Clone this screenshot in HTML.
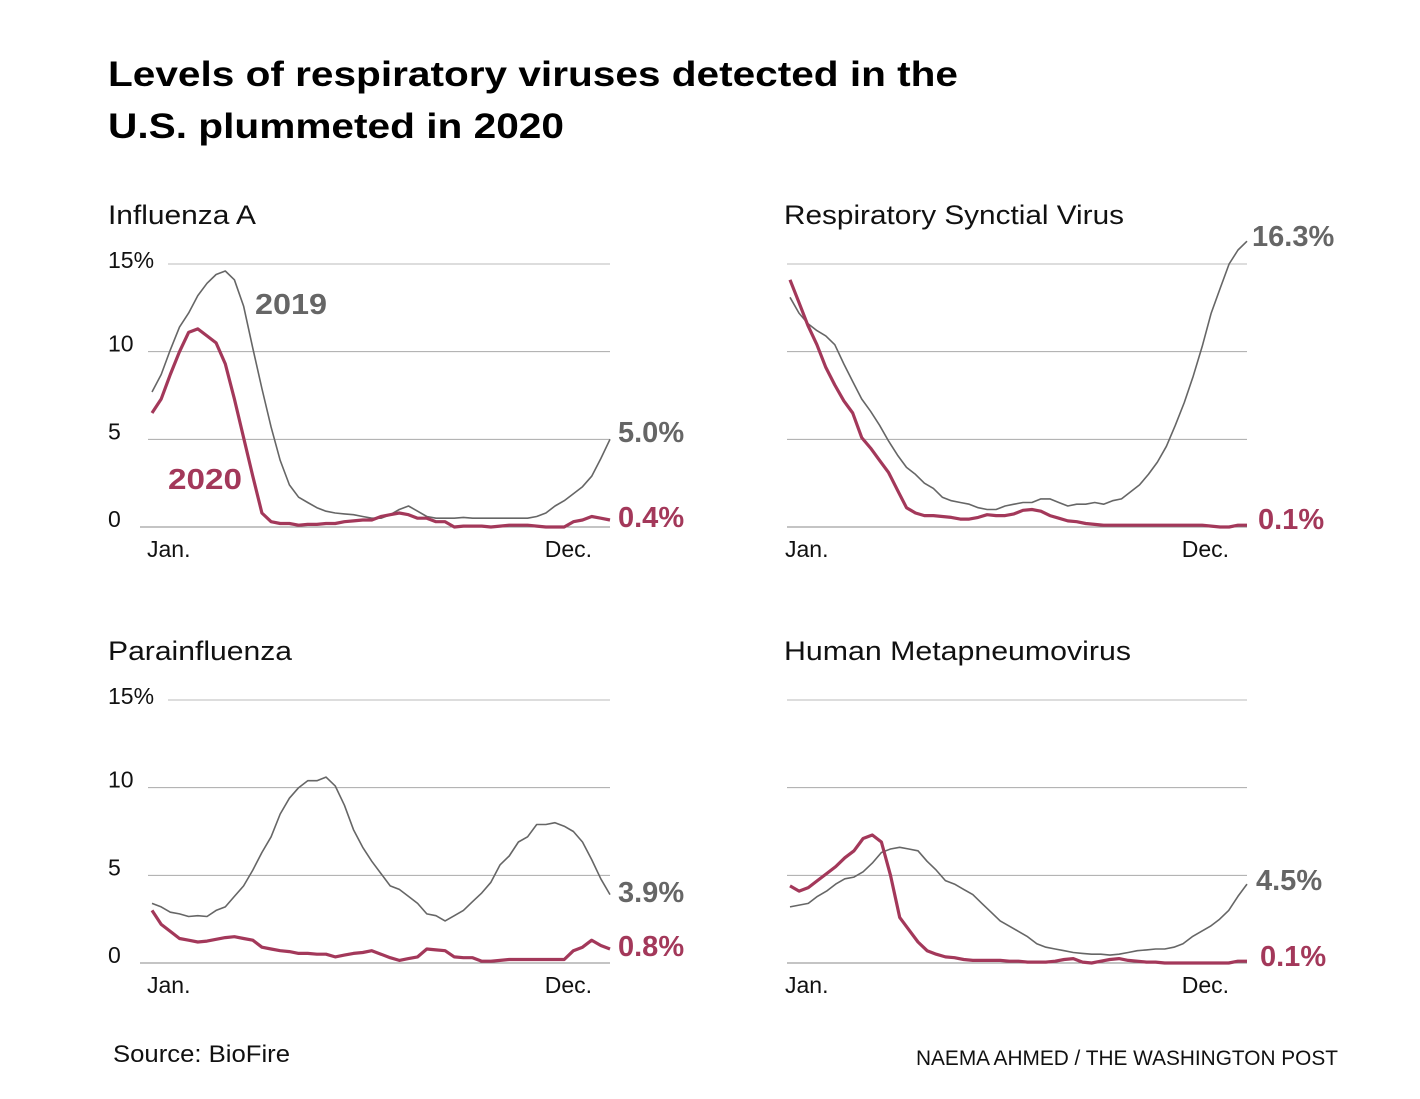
<!DOCTYPE html>
<html><head><meta charset="utf-8"><style>
html,body{margin:0;padding:0;background:#fff;}
svg{display:block;font-family:"Liberation Sans",Arial,sans-serif;}
</style></head><body>
<svg id="chart" width="1420" height="1099" viewBox="0 0 1420 1099" xmlns="http://www.w3.org/2000/svg">
<text x="108" y="86" font-size="35" font-weight="bold" textLength="850" lengthAdjust="spacingAndGlyphs">Levels of respiratory viruses detected in the</text>
<text x="108" y="138" font-size="35" font-weight="bold" textLength="456" lengthAdjust="spacingAndGlyphs">U.S. plummeted in 2020</text>
<text x="113" y="1062" font-size="24" fill="#111" textLength="177" lengthAdjust="spacingAndGlyphs">Source: BioFire</text>
<text x="916" y="1065" font-size="21" fill="#111" textLength="422" lengthAdjust="spacingAndGlyphs">NAEMA AHMED / THE WASHINGTON POST</text>
<g id="panels"></g>
</svg>
<script>
const fluA2019 = [7.7,8.7,10.1,11.4,12.2,13.2,13.9,14.4,14.6,14.1,12.6,10.2,7.9,5.7,3.8,2.4,1.7,1.4,1.1,0.9,0.8,0.75,0.7,0.6,0.5,0.5,0.7,1.0,1.2,0.9,0.6,0.5,0.5,0.5,0.55,0.5,0.5,0.5,0.5,0.5,0.5,0.5,0.6,0.8,1.2,1.5,1.9,2.3,2.9,3.9,5.0];
const fluA2020 = [6.5,7.3,8.7,10.0,11.1,11.3,10.9,10.5,9.3,7.3,5.1,2.9,0.8,0.3,0.2,0.2,0.1,0.15,0.15,0.2,0.2,0.3,0.35,0.4,0.4,0.6,0.7,0.8,0.7,0.5,0.5,0.3,0.3,0.0,0.05,0.05,0.05,0.0,0.05,0.1,0.1,0.1,0.05,0.0,0.0,0.0,0.3,0.4,0.6,0.5,0.4];
const rsv2019 = [13.1,12.2,11.6,11.2,10.9,10.4,9.3,8.3,7.3,6.6,5.8,4.9,4.1,3.4,3.0,2.5,2.2,1.7,1.5,1.4,1.3,1.1,1.0,1.0,1.2,1.3,1.4,1.4,1.6,1.6,1.4,1.2,1.3,1.3,1.4,1.3,1.5,1.6,2.0,2.4,3.0,3.7,4.6,5.8,7.1,8.6,10.3,12.2,13.6,15.0,15.8,16.3];
const rsv2020 = [14.1,12.8,11.5,10.4,9.1,8.1,7.2,6.5,5.1,4.5,3.8,3.1,2.1,1.1,0.8,0.65,0.65,0.6,0.55,0.45,0.45,0.55,0.7,0.65,0.65,0.75,0.95,1.0,0.9,0.65,0.5,0.35,0.3,0.2,0.15,0.1,0.1,0.1,0.1,0.1,0.1,0.1,0.1,0.1,0.1,0.1,0.1,0.05,0.0,0.0,0.1,0.1];
const para2019 = [3.4,3.2,2.9,2.8,2.65,2.7,2.65,3.0,3.2,3.8,4.4,5.3,6.3,7.2,8.5,9.4,10.0,10.4,10.4,10.6,10.1,9.0,7.6,6.6,5.8,5.1,4.4,4.2,3.8,3.4,2.8,2.7,2.4,2.7,3.0,3.5,4.0,4.6,5.6,6.1,6.9,7.2,7.9,7.9,8.0,7.8,7.5,6.9,5.9,4.8,3.9];
const para2020 = [3.0,2.2,1.8,1.4,1.3,1.2,1.25,1.35,1.45,1.5,1.4,1.3,0.9,0.8,0.7,0.65,0.55,0.55,0.5,0.5,0.35,0.45,0.55,0.6,0.7,0.5,0.3,0.15,0.25,0.35,0.8,0.75,0.7,0.35,0.3,0.3,0.1,0.1,0.15,0.2,0.2,0.2,0.2,0.2,0.2,0.2,0.7,0.9,1.3,1.0,0.8];
const hmpv2019 = [3.2,3.3,3.4,3.8,4.1,4.5,4.8,4.9,5.2,5.7,6.3,6.5,6.6,6.5,6.4,5.8,5.3,4.7,4.5,4.2,3.9,3.4,2.9,2.4,2.1,1.8,1.5,1.1,0.9,0.8,0.7,0.6,0.55,0.5,0.5,0.45,0.5,0.6,0.7,0.75,0.8,0.8,0.9,1.1,1.5,1.8,2.1,2.5,3.0,3.8,4.5];
const hmpv2020 = [4.4,4.1,4.3,4.7,5.1,5.5,6.0,6.4,7.1,7.3,6.9,5.0,2.6,1.9,1.2,0.7,0.5,0.35,0.3,0.2,0.15,0.15,0.15,0.15,0.1,0.1,0.05,0.05,0.05,0.1,0.2,0.25,0.05,0.0,0.1,0.2,0.25,0.15,0.1,0.05,0.05,0.0,0.0,0.0,0.0,0.0,0.0,0.0,0.0,0.1,0.1];
const tickValues = [0,5,10,15];
const tickLabels = ["0","5","10","15%"];
const endLabels2019 = ["5.0%","16.3%","3.9%","4.5%"];
const endLabels2020 = ["0.4%","0.1%","0.8%","0.1%"];
const panelTitles = ["Influenza A","Respiratory Synctial Virus","Parainfluenza","Human Metapneumovirus"];

const NS="http://www.w3.org/2000/svg";
const GRAY="#666", RED="#a3385a";
const root=document.getElementById('panels');
function mk(tag,attrs,parent,text){const e=document.createElementNS(NS,tag);for(const k in attrs)e.setAttribute(k,attrs[k]);if(text!==undefined)e.textContent=text;parent.appendChild(e);return e;}

const panels=[
 {x0:152,x1:610,y0:527,s19:fluA2019,s20:fluA2020,ticks:true,slug:'influenza-a',tx:108,tw:148},
 {x0:790,x1:1247,y0:527,s19:rsv2019,s20:rsv2020,ticks:false,slug:'rsv',tx:784,tw:340},
 {x0:152,x1:610,y0:963,s19:para2019,s20:para2020,ticks:true,slug:'parainfluenza',tx:108,tw:184},
 {x0:790,x1:1247,y0:963,s19:hmpv2019,s20:hmpv2020,ticks:false,slug:'hmpv',tx:784,tw:347}
];
const endPos=[[618,442,618,527],[1252,246,1258,529],[618,902,618,956],[1256,890,1260,966]];

panels.forEach((p,pi)=>{
  const g=mk('g',{},root);
  
  
  const yS=v=>p.y0-v*(263/15);
  const xS=(i,n)=>p.x0+i*(p.x1-p.x0)/(n-1);
  const t=mk('text',{x:p.tx,y:p.y0-303,'font-size':27,fill:'#111',textLength:p.tw,lengthAdjust:'spacingAndGlyphs'},g,panelTitles[pi]);
  
  
  tickValues.forEach((v,ti)=>{
    const y=yS(v);
    let xs = p.x0>700 ? 787 : (v===15?168:(v===0?140:148));
    const ln=mk('line',{x1:xs,x2:p.x1,y1:y,y2:y,stroke:v===15?'#ddd':(v===0?'#888':'#aaa'),'stroke-width':v===15?2:1},g);
    
    
    if(p.ticks){
      const tl=mk('text',{x:108,y:y+(v===15?4:0),'font-size':23,fill:'#111'},g,tickLabels[ti]);
      
      
    }
  });
  const jl=mk('text',{x:p.x0-5,y:p.y0+30,'font-size':23,fill:'#111'},g,'Jan.');
  
  
  const dl=mk('text',{x:p.x1-18,y:p.y0+30,'font-size':23,fill:'#111','text-anchor':'end'},g,'Dec.');
  
  
  [[p.s19,GRAY,1.6,'line-2019'],[p.s20,RED,3.2,'line-2020']].forEach(([s,c,w,n])=>{
    const d=s.map((v,i)=>(i?'L':'M')+xS(i,s.length).toFixed(1)+','+yS(v).toFixed(1)).join('');
    const path=mk('path',{d:d,fill:'none',stroke:c,'stroke-width':w,'stroke-linejoin':'round'},g);
    
    
  });
  const ep=endPos[pi];
  const e1=mk('text',{x:ep[0],y:ep[1],'font-size':29,'font-weight':'bold',fill:GRAY},g,endLabels2019[pi]);
  
  
  const e2=mk('text',{x:ep[2],y:ep[3],'font-size':29,'font-weight':'bold',fill:RED},g,endLabels2020[pi]);
  
  
  if(pi===0){
    const l1=mk('text',{x:255,y:314,'font-size':29,'font-weight':'bold',fill:GRAY,textLength:72,lengthAdjust:'spacingAndGlyphs'},g,'2019');
    
    
    const l2=mk('text',{x:168,y:489,'font-size':29,'font-weight':'bold',fill:RED,textLength:74,lengthAdjust:'spacingAndGlyphs'},g,'2020');
    
    
  }
});
</script>
</body></html>
